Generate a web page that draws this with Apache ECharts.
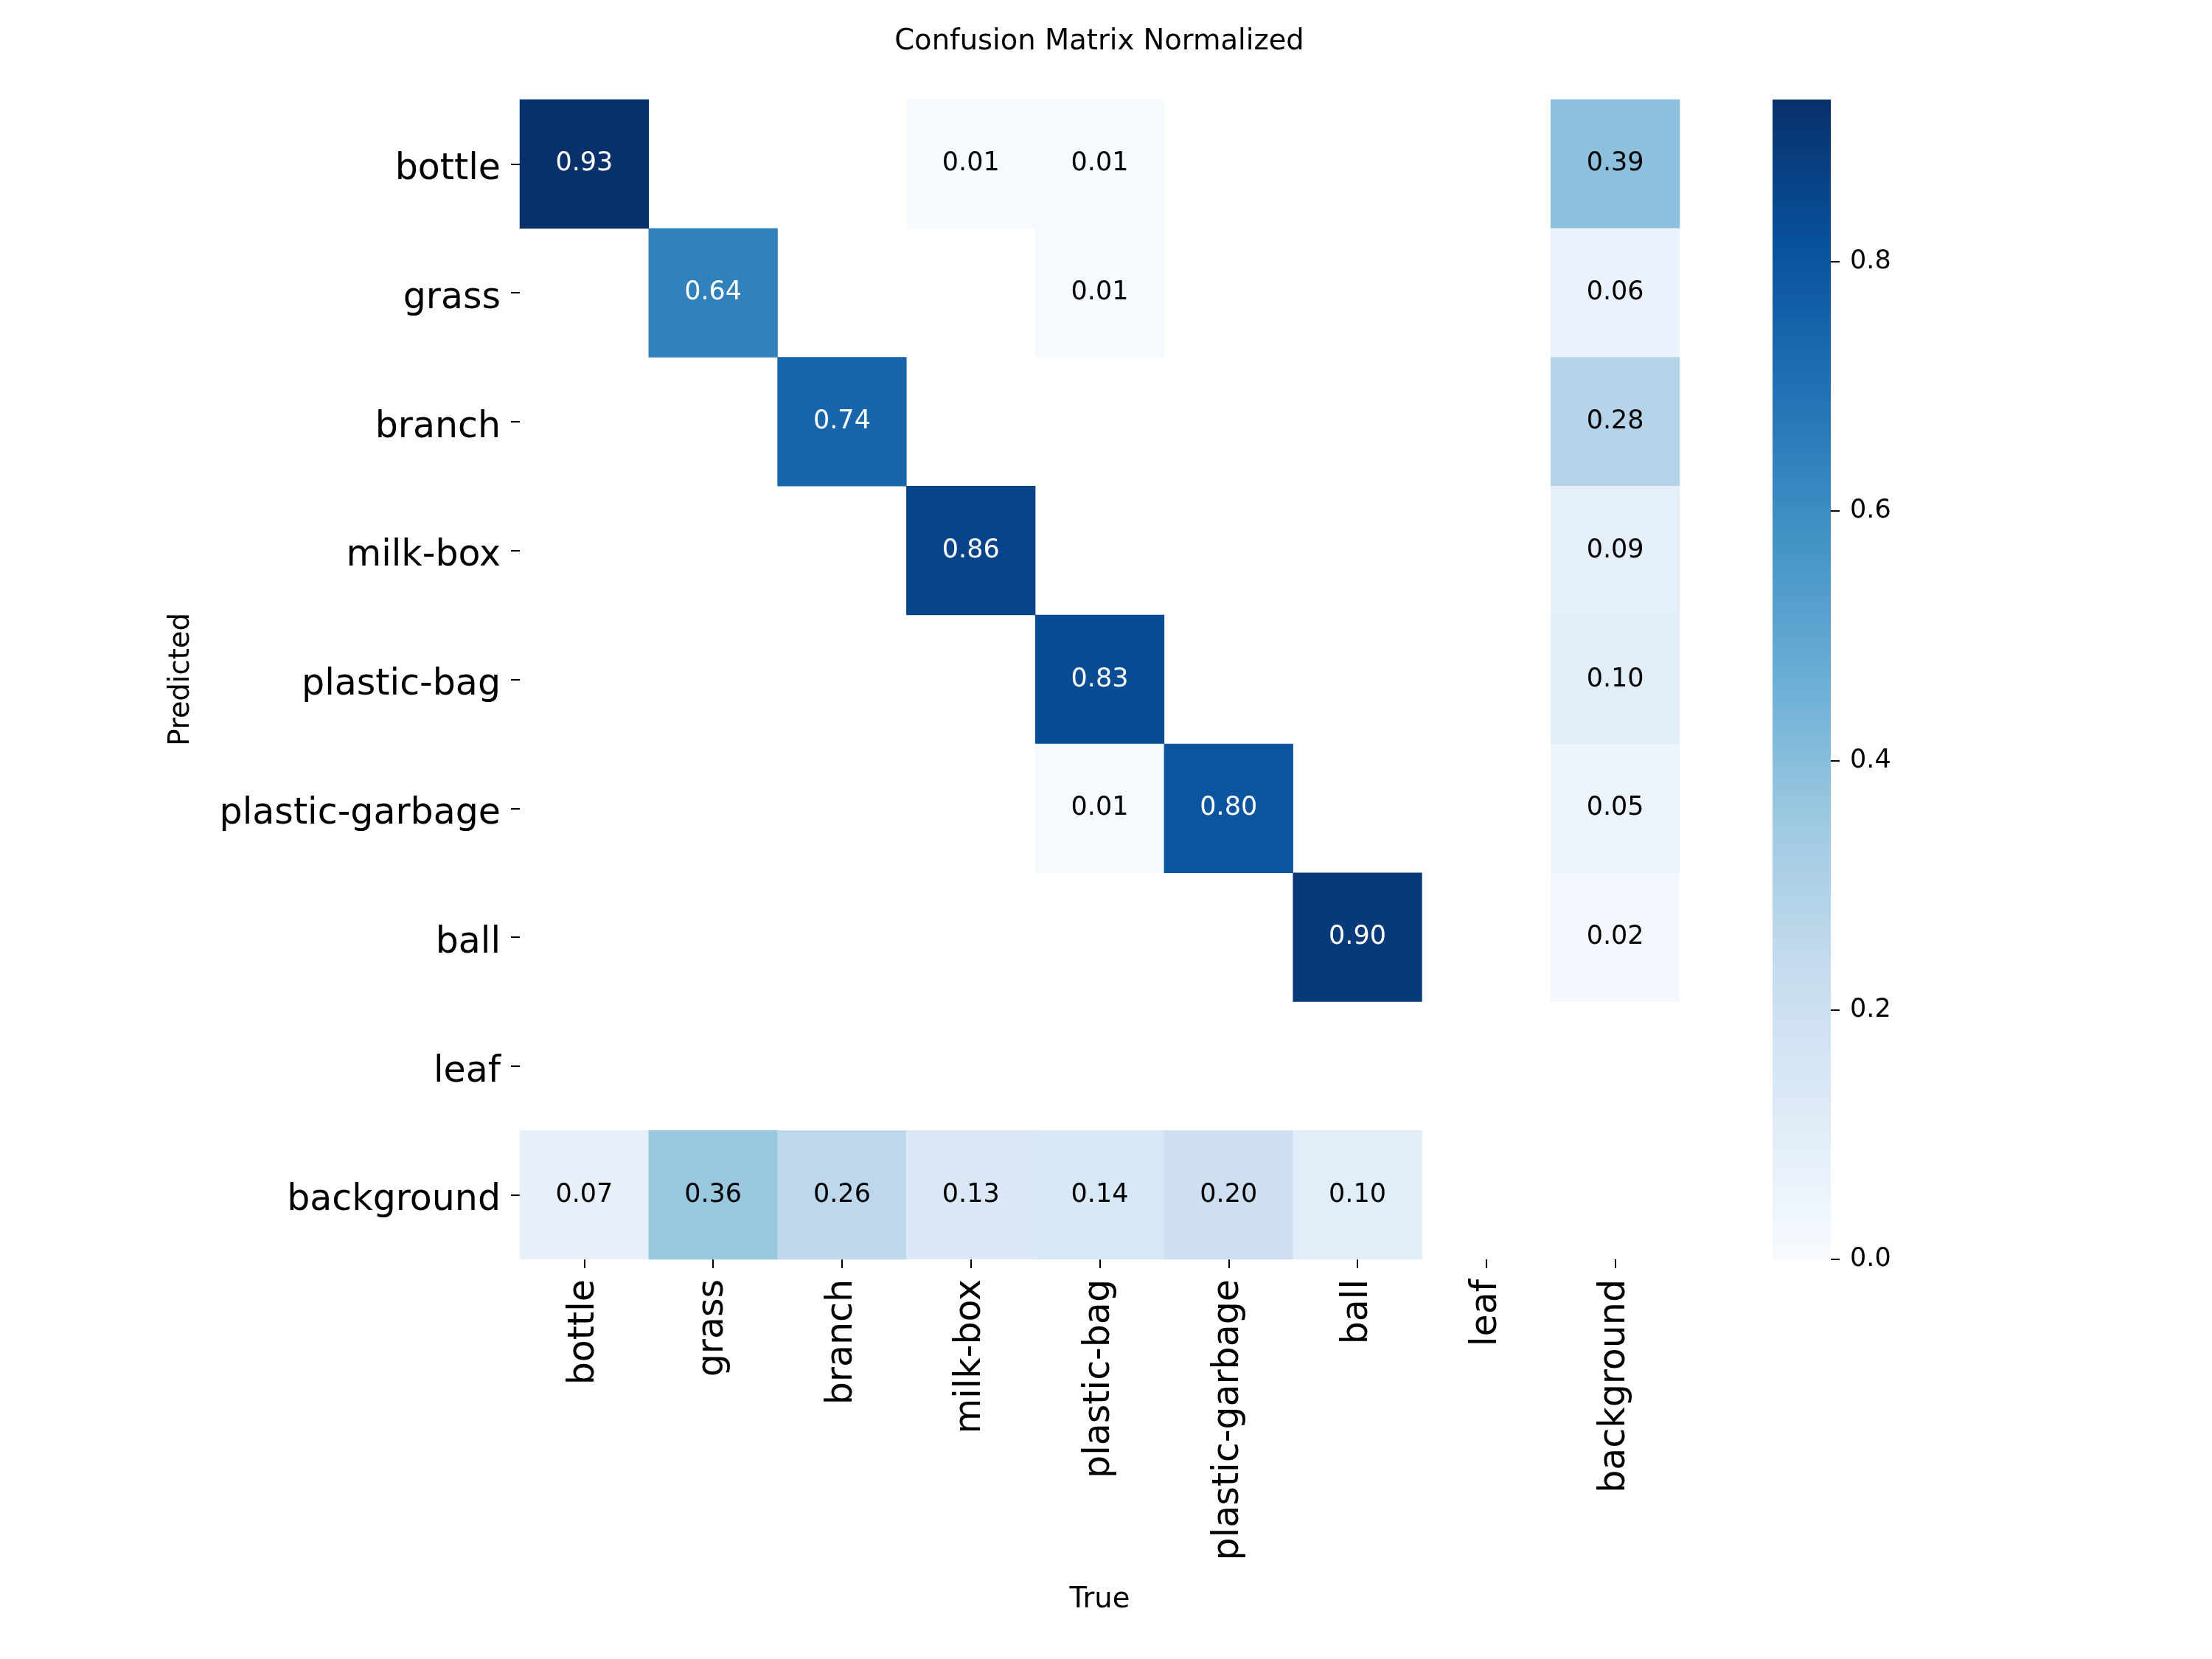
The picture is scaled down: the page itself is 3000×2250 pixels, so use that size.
<!DOCTYPE html>
<html>
<head>
<meta charset="utf-8">
<script src="https://cdn.jsdelivr.net/npm/echarts@6/dist/echarts.min.js"></script>
<style>
  html, body { margin: 0; padding: 0; background: #fff; }
  #main { width: 3000px; height: 2250px; }
</style>
</head>
<body>
<div id="main"></div>
<script>
// class names, same order on both axes
var classes = ['bottle', 'grass', 'branch', 'milk-box', 'plastic-bag',
               'plastic-garbage', 'ball', 'leaf', 'background'];

// one row per predicted class, columns are the true class (0 = empty cell)
var predBottle     = [0.93, 0,    0,    0.01, 0.01, 0,    0,    0, 0.39];
var predGrass      = [0,    0.64, 0,    0,    0.01, 0,    0,    0, 0.06];
var predBranch     = [0,    0,    0.74, 0,    0,    0,    0,    0, 0.28];
var predMilkBox    = [0,    0,    0,    0.86, 0,    0,    0,    0, 0.09];
var predPlasticBag = [0,    0,    0,    0,    0.83, 0,    0,    0, 0.10];
var predPlasticGar = [0,    0,    0,    0,    0.01, 0.80, 0,    0, 0.05];
var predBall       = [0,    0,    0,    0,    0,    0,    0.90, 0, 0.02];
var predLeaf       = [0,    0,    0,    0,    0,    0,    0,    0, 0];
var predBackground = [0.07, 0.36, 0.26, 0.13, 0.14, 0.20, 0.10, 0, 0];

var colorbarTicks = [0.0, 0.2, 0.4, 0.6, 0.8];
var vmax = 0.93;

window.onload = function () {
    var rows = [predBottle, predGrass, predBranch, predMilkBox, predPlasticBag,
                predPlasticGar, predBall, predLeaf, predBackground];
    var data = [];
    rows.forEach(function (row, r) {
        row.forEach(function (v, c) {
            if (v > 0) {
                data.push({
                    value: [c, r, v],
                    label: { color: v > 0.5 ? '#ffffff' : '#000000' }
                });
            }
        });
    });

    // Blues colormap
    var blues = ['#f7fbff', '#deebf7', '#c6dbef', '#9ecae1', '#6baed6',
                 '#4292c6', '#2171b5', '#08519c', '#08306b'];
    var stops = blues.map(function (c, i) {
        return { offset: i / (blues.length - 1), color: c };
    });
    var font = 'DejaVu Sans';

    var myChart = echarts.init(document.getElementById('main'));
    var option = {
        backgroundColor: '#ffffff',
        animation: false,
        textStyle: { fontFamily: font },
        title: {
            text: 'Confusion Matrix Normalized',
            left: 1491,
            textAlign: 'center',
            top: 37,
            padding: 0,
            textStyle: { fontFamily: font, fontSize: 38.5, fontWeight: 'normal', color: '#000' }
        },
        grid: [
            { left: 705, top: 135, width: 1573, height: 1573 },
            { left: 2404, top: 135, width: 79, height: 1573 }
        ],
        xAxis: [{
            type: 'category',
            gridIndex: 0,
            data: classes,
            position: 'bottom',
            name: 'True',
            nameLocation: 'middle',
            nameGap: 442,
            nameTextStyle: { fontFamily: font, fontSize: 38.5, color: '#000' },
            axisLine: { show: false },
            axisTick: { show: true, alignWithLabel: true, length: 12, lineStyle: { color: '#000', width: 2 } },
            axisLabel: { rotate: 90, fontSize: 49, color: '#000', margin: 27, interval: 0, fontFamily: font },
            splitLine: { show: false }
        }, {
            type: 'category',
            gridIndex: 1,
            show: false,
            data: ['colorbar']
        }],
        yAxis: [{
            type: 'category',
            gridIndex: 0,
            data: classes,
            inverse: true,
            name: 'Predicted',
            nameLocation: 'middle',
            nameGap: 440,
            nameRotate: 90,
            nameTextStyle: { fontFamily: font, fontSize: 38.5, color: '#000' },
            axisLine: { show: false },
            axisTick: { show: true, alignWithLabel: true, length: 12, lineStyle: { color: '#000', width: 2 } },
            axisLabel: {
                color: '#000', margin: 26, interval: 0,
                formatter: function (v) { return '{l|' + v + '}'; },
                rich: { l: { fontSize: 49, fontFamily: font, color: '#000', padding: [16, 0, 0, 0] } }
            },
            splitLine: { show: false }
        }, {
            type: 'value',
            gridIndex: 1,
            position: 'right',
            min: 0,
            max: vmax,
            axisLine: { show: false },
            axisTick: {
                show: true, length: 12, customValues: colorbarTicks,
                lineStyle: { color: '#000', width: 2 }
            },
            axisLabel: {
                fontSize: 35, color: '#000', margin: 26, fontFamily: font,
                customValues: colorbarTicks,
                formatter: function (v) { return v.toFixed(1); }
            },
            splitLine: { show: false }
        }],
        visualMap: {
            type: 'continuous',
            show: false,
            min: 0,
            max: vmax,
            dimension: 2,
            seriesIndex: 0,
            inRange: { color: blues }
        },
        series: [{
            type: 'heatmap',
            xAxisIndex: 0,
            yAxisIndex: 0,
            data: data,
            label: {
                show: true,
                fontSize: 35,
                fontFamily: font,
                formatter: function (p) { return p.value[2].toFixed(2); }
            },
            emphasis: { disabled: true }
        }, {
            // colour bar: one bar from 0 to vmax on the colour-bar axis
            type: 'bar',
            xAxisIndex: 1,
            yAxisIndex: 1,
            barWidth: '100%',
            data: [vmax],
            silent: true,
            itemStyle: { color: new echarts.graphic.LinearGradient(0, 1, 0, 0, stops) }
        }]
    };
    myChart.setOption(option);
};
</script>
</body>
</html>
